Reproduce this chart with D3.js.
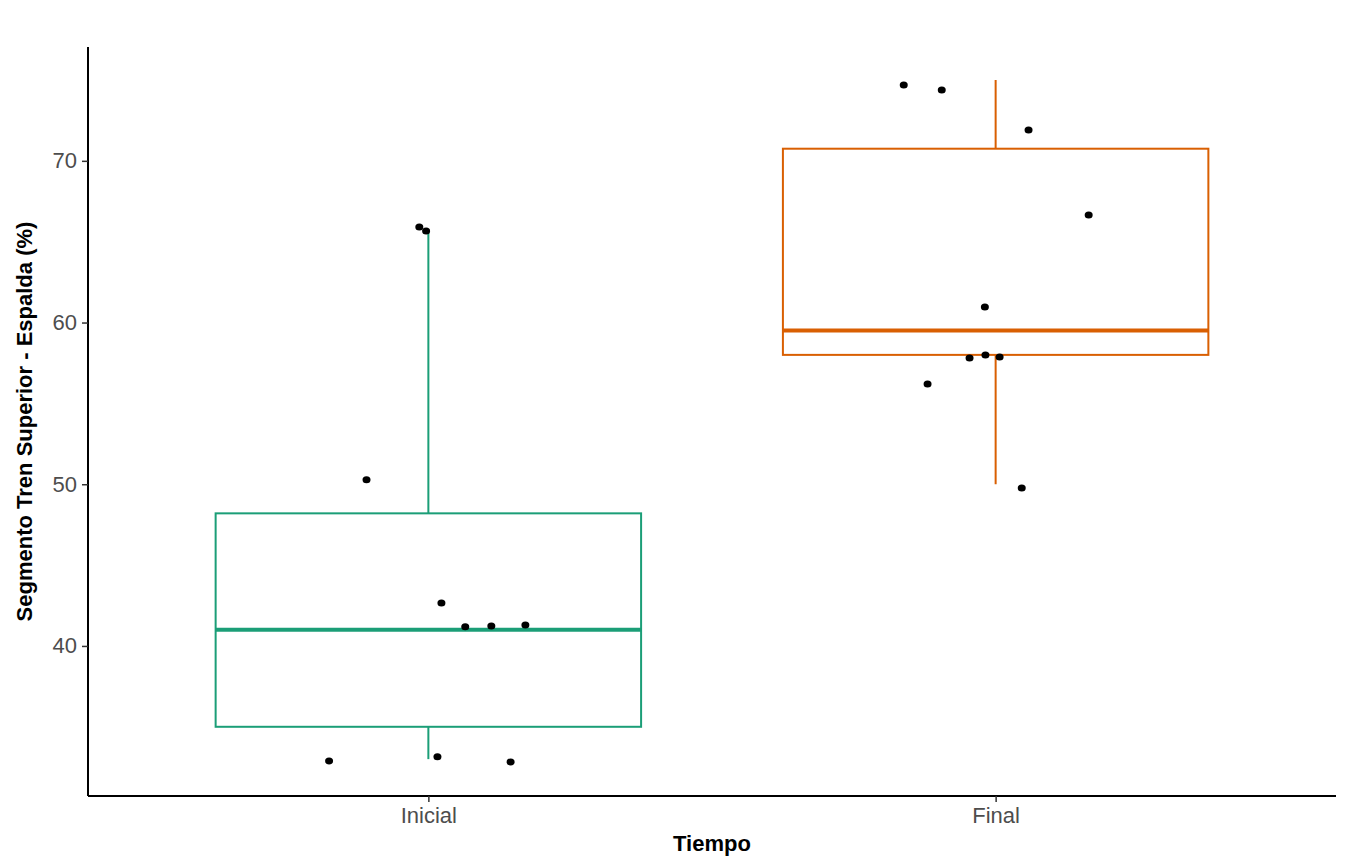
<!DOCTYPE html>
<html><head><meta charset="utf-8">
<script src="https://cdn.jsdelivr.net/npm/d3@7"></script>
<style>body{margin:0;background:#fff}svg{font-family:"Liberation Sans",Arial,sans-serif}</style>
</head><body>
<script>
// data
var categories = ["Inicial", "Final"];
var boxColors = ["#1B9E77", "#D95F02"];
var q1 = [35.0, 58.0];
var medians = [41.0, 59.5];
var q3 = [48.2, 70.75];
var whiskLow = [33.0, 50.0];
var whiskHigh = [65.7, 75.0];
var inicialValues = [32.89, 50.27, 65.91, 65.66, 33.14, 42.66, 41.18, 41.24, 32.83, 41.30];
var inicialJitter = [-0.175, -0.109, -0.016, -0.004, 0.016, 0.023, 0.065, 0.111, 0.145, 0.171];
var finalValues = [74.69, 74.38, 71.91, 66.65, 60.96, 56.20, 57.81, 58.0, 57.87, 49.77];
var finalJitter = [-0.162, -0.095, 0.058, 0.164, -0.019, -0.12, -0.046, -0.018, 0.007, 0.046];
var yTicks = [40, 50, 60, 70];

var W = 1350, H = 867;
var m = {left: 88, right: 14, top: 47, bottom: 71};
var svg = d3.select("body").append("svg").attr("width", W).attr("height", H);

// discrete positions 1..n with ggplot's 0.6 expansion
var x = d3.scaleLinear().domain([0.4, 2.6]).range([m.left, W - m.right]);
var y = d3.scaleLinear().domain([30.72, 77.04]).range([H - m.bottom, m.top]);
var bw = 0.75;

var boxes = categories.map((c, i) => ({c: c, i: i + 1, col: boxColors[i], q1: q1[i], med: medians[i], q3: q3[i], lo: whiskLow[i], hi: whiskHigh[i]}));
var g = svg.selectAll("g.box").data(boxes).enter().append("g").attr("class", "box");
g.append("line").attr("x1", d => x(d.i)).attr("x2", d => x(d.i)).attr("y1", d => y(d.q3)).attr("y2", d => y(d.hi)).attr("stroke", d => d.col).attr("stroke-width", 2);
g.append("line").attr("x1", d => x(d.i)).attr("x2", d => x(d.i)).attr("y1", d => y(d.q1)).attr("y2", d => y(d.lo)).attr("stroke", d => d.col).attr("stroke-width", 2);
g.append("rect").attr("x", d => x(d.i - bw / 2)).attr("width", d => x(d.i + bw / 2) - x(d.i - bw / 2))
  .attr("y", d => y(d.q3)).attr("height", d => y(d.q1) - y(d.q3)).attr("fill", "none").attr("stroke", d => d.col).attr("stroke-width", 2);
g.append("line").attr("x1", d => x(d.i - bw / 2)).attr("x2", d => x(d.i + bw / 2)).attr("y1", d => y(d.med)).attr("y2", d => y(d.med)).attr("stroke", d => d.col).attr("stroke-width", 4);

var pts = [];
inicialValues.forEach((v, k) => pts.push({x: 1 + inicialJitter[k], v: v}));
finalValues.forEach((v, k) => pts.push({x: 2 + finalJitter[k], v: v}));
svg.selectAll("ellipse.pt").data(pts).enter().append("ellipse").attr("class", "pt")
  .attr("cx", d => x(d.x)).attr("cy", d => y(d.v)).attr("rx", 4).attr("ry", 3.5).attr("fill", "#000");

// axes
var yAxis = svg.append("g").attr("transform", "translate(" + m.left + ",0)")
  .call(d3.axisLeft(y).tickValues(yTicks).tickSize(6).tickPadding(5));
var xAxis = svg.append("g").attr("transform", "translate(0," + (H - m.bottom) + ")")
  .call(d3.axisBottom(x).tickValues([1, 2]).tickFormat(d => categories[d - 1]).tickSize(6).tickPadding(5));
[yAxis, xAxis].forEach(a => {
  a.select(".domain").attr("stroke", "#000").attr("stroke-width", 2).attr("d", null);
  a.selectAll(".tick line").attr("stroke", "#333").attr("stroke-width", 1.5);
  a.selectAll(".tick text").attr("fill", "#4d4d4d").style("font-size", "22px");
});
yAxis.select(".domain").attr("d", "M0," + m.top + "V" + (H - m.bottom));
xAxis.select(".domain").attr("d", "M" + m.left + ",0H" + (W - m.right));

svg.append("text").attr("x", x(1.5)).attr("y", 851).attr("text-anchor", "middle")
  .style("font-size", "22px").style("font-weight", "bold").text("Tiempo");
svg.append("text").attr("transform", "translate(32," + ((m.top + H - m.bottom) / 2) + ") rotate(-90)")
  .attr("text-anchor", "middle").style("font-size", "22px").style("font-weight", "bold")
  .text("Segmento Tren Superior - Espalda (%)");
</script>
</body></html>
